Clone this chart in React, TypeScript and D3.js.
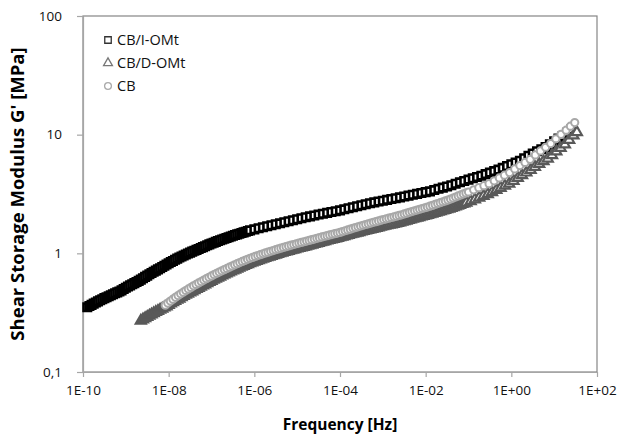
import React, { useEffect, useRef } from 'react';
import * as d3 from 'd3';

// frequencies are stored as log10(Hz), G' in MPa
const iomtLogHz = [
  -9.9, -9.85, -9.8, -9.75, -9.7, -9.65, -9.6, -9.55, -9.5, -9.45,
  -9.4, -9.35, -9.3, -9.25, -9.2, -9.15, -9.1, -9.05, -9.0, -8.95,
  -8.9, -8.85, -8.8, -8.75, -8.7, -8.65, -8.6, -8.55, -8.5, -8.45,
  -8.4, -8.35, -8.3, -8.25, -8.2, -8.15, -8.1, -8.05, -8.0, -7.95,
  -7.9, -7.85, -7.8, -7.75, -7.7, -7.65, -7.6, -7.55, -7.5, -7.45,
  -7.4, -7.35, -7.3, -7.25, -7.2, -7.15, -7.1, -7.05, -7.0, -6.95,
  -6.9, -6.85, -6.8, -6.75, -6.7, -6.65, -6.6, -6.55, -6.5, -6.45,
  -6.4, -6.35, -6.3, -6.25, -6.2, -6.15, -6.1,
  -6.0, -5.9, -5.8, -5.7, -5.6, -5.5, -5.4, -5.3, -5.2, -5.1,
  -5.0, -4.9, -4.8, -4.7, -4.6, -4.5, -4.4, -4.3, -4.2, -4.1,
  -4.0, -3.9, -3.8, -3.7, -3.6, -3.5, -3.4, -3.3, -3.2, -3.1,
  -3.0, -2.9, -2.8, -2.7, -2.6, -2.5, -2.4, -2.3, -2.2, -2.1,
  -2.0, -1.9, -1.8, -1.7, -1.6, -1.5, -1.4, -1.3, -1.2, -1.1,
  -1.0, -0.9, -0.8, -0.7, -0.6, -0.5, -0.4, -0.3, -0.2, -0.1,
  0.0, 0.1, 0.2, 0.3, 0.4, 0.5, 0.6, 0.7, 0.8, 0.9,
  1.0, 1.1, 1.2, 1.3, 1.4
];
const iomtG = [
  0.351, 0.36, 0.368, 0.377, 0.385, 0.394, 0.402, 0.41, 0.419, 0.427,
  0.435, 0.444, 0.452, 0.461, 0.469, 0.477, 0.487, 0.5, 0.513, 0.525,
  0.537, 0.549, 0.561, 0.574, 0.586, 0.6, 0.616, 0.633, 0.649, 0.666,
  0.682, 0.699, 0.715, 0.732, 0.748, 0.767, 0.786, 0.806, 0.825, 0.844,
  0.863, 0.883, 0.902, 0.921, 0.94, 0.958, 0.977, 0.996, 1.014, 1.033,
  1.052, 1.07, 1.089, 1.108, 1.128, 1.148, 1.168, 1.189, 1.209, 1.229,
  1.249, 1.27, 1.29, 1.309, 1.329, 1.348, 1.367, 1.387, 1.406, 1.425,
  1.444, 1.464, 1.483, 1.502, 1.521, 1.541, 1.56,
  1.593, 1.626, 1.659, 1.691, 1.724, 1.757, 1.79, 1.827, 1.864, 1.901,
  1.939, 1.976, 2.013, 2.05, 2.086, 2.121, 2.157, 2.193, 2.229, 2.264,
  2.3, 2.349, 2.397, 2.446, 2.494, 2.543, 2.591, 2.64, 2.686, 2.731,
  2.777, 2.823, 2.869, 2.914, 2.96, 3.013, 3.066, 3.119, 3.171, 3.224,
  3.277, 3.33, 3.413, 3.496, 3.579, 3.662, 3.752, 3.859, 3.966, 4.073,
  4.181, 4.288, 4.395, 4.512, 4.652, 4.792, 4.932, 5.072, 5.248, 5.444,
  5.639, 5.835, 6.03, 6.333, 6.636, 6.939, 7.243, 7.546, 7.849, 8.283,
  8.773, 9.264, 9.755, 10.35, 11.06
];

const domtLogHz = [
  -8.65, -8.6, -8.55, -8.5, -8.45, -8.4, -8.35, -8.3, -8.25, -8.2,
  -8.15, -8.1, -8.05, -8.0, -7.95, -7.9, -7.85, -7.8, -7.75, -7.7,
  -7.65, -7.6, -7.55, -7.5, -7.45, -7.4, -7.35, -7.3, -7.25, -7.2,
  -7.15, -7.1, -7.05, -7.0, -6.95, -6.9, -6.85, -6.8, -6.75, -6.7,
  -6.65, -6.6, -6.55, -6.5, -6.45, -6.4, -6.35, -6.3, -6.25, -6.2,
  -6.15, -6.1, -6.05, -6.0, -5.95, -5.9, -5.85, -5.8, -5.75, -5.7,
  -5.65, -5.6, -5.55, -5.5, -5.45, -5.4, -5.35, -5.3, -5.25, -5.2,
  -5.15, -5.1, -5.05, -5.0, -4.95, -4.9, -4.85, -4.8, -4.75, -4.7,
  -4.65, -4.6, -4.55, -4.5, -4.45, -4.4, -4.35, -4.3, -4.25, -4.2,
  -4.15, -4.1, -4.05, -4.0, -3.95, -3.9, -3.85, -3.8, -3.75, -3.7,
  -3.65, -3.6, -3.55, -3.5, -3.45, -3.4, -3.35, -3.3, -3.25, -3.2,
  -3.15, -3.1, -3.05, -3.0, -2.95, -2.9, -2.85, -2.8, -2.75, -2.7,
  -2.65, -2.6, -2.55, -2.5, -2.45, -2.4, -2.35, -2.3, -2.25, -2.2,
  -2.15, -2.1, -2.05, -2.0, -1.95, -1.9, -1.85, -1.8, -1.75, -1.7,
  -1.65, -1.6, -1.55, -1.5, -1.45, -1.4, -1.35, -1.3, -1.25, -1.2,
  -1.15, -1.1, -1.05,
  -0.95, -0.85, -0.75, -0.65, -0.55, -0.45, -0.35, -0.25, -0.15, -0.05,
  0.05, 0.15, 0.25, 0.35, 0.45, 0.55, 0.65, 0.75, 0.85, 0.95,
  1.05, 1.15, 1.25, 1.35, 1.45, 1.53
];
const domtG = [
  0.27, 0.277, 0.284, 0.291, 0.298, 0.305, 0.312, 0.32, 0.327, 0.334,
  0.341, 0.349, 0.357, 0.367, 0.377, 0.387, 0.396, 0.406, 0.415, 0.426,
  0.436, 0.447, 0.457, 0.468, 0.478, 0.489, 0.5, 0.511, 0.522, 0.535,
  0.547, 0.56, 0.573, 0.586, 0.598, 0.611, 0.623, 0.636, 0.649, 0.662,
  0.675, 0.689, 0.702, 0.716, 0.729, 0.743, 0.756, 0.77, 0.784, 0.798,
  0.811, 0.824, 0.837, 0.85, 0.862, 0.875, 0.887, 0.9, 0.912, 0.925,
  0.937, 0.95, 0.962, 0.975, 0.987, 1.0, 1.012, 1.024, 1.036, 1.048,
  1.06, 1.072, 1.084, 1.096, 1.108, 1.12, 1.132, 1.144, 1.156, 1.169,
  1.182, 1.196, 1.21, 1.224, 1.238, 1.252, 1.266, 1.28, 1.294, 1.308,
  1.322, 1.336, 1.35, 1.365, 1.38, 1.396, 1.412, 1.428, 1.445, 1.461,
  1.477, 1.493, 1.509, 1.525, 1.542, 1.558, 1.574, 1.59, 1.606, 1.622,
  1.639, 1.655, 1.672, 1.688, 1.705, 1.721, 1.738, 1.754, 1.771, 1.787,
  1.804, 1.822, 1.842, 1.864, 1.886, 1.908, 1.931, 1.953, 1.975, 1.997,
  2.019, 2.041, 2.064, 2.086, 2.108, 2.132, 2.158, 2.185, 2.213, 2.24,
  2.268, 2.296, 2.324, 2.351, 2.379, 2.413, 2.45, 2.487, 2.524, 2.561,
  2.599, 2.636, 2.673,
  2.75, 2.849, 2.948, 3.048, 3.147, 3.27, 3.42, 3.56, 3.71, 3.86,
  4.08, 4.32, 4.55, 4.79, 5.04, 5.35, 5.66, 5.97, 6.28, 6.7,
  7.22, 7.74, 8.26, 9.04, 9.83, 10.5
];

const cbLogHz = [
  -8.08, -8.02, -7.96, -7.9, -7.84, -7.78, -7.72, -7.66, -7.6, -7.54,
  -7.48, -7.42, -7.36, -7.3, -7.24, -7.18, -7.12, -7.06, -7.0, -6.94,
  -6.88, -6.82, -6.76, -6.7, -6.64, -6.58, -6.52, -6.46, -6.4, -6.34,
  -6.28, -6.22, -6.16, -6.1, -6.04, -5.98, -5.92, -5.86, -5.8, -5.74,
  -5.68, -5.62, -5.56, -5.5, -5.44, -5.38, -5.32, -5.26, -5.2, -5.14,
  -5.08, -5.02, -4.96, -4.9, -4.84, -4.78, -4.72, -4.66, -4.6, -4.54,
  -4.48, -4.42, -4.36, -4.3, -4.24, -4.18, -4.12, -4.06, -4.0, -3.94,
  -3.88, -3.82, -3.76, -3.7, -3.64, -3.58, -3.52, -3.46, -3.4, -3.34,
  -3.28, -3.22, -3.16, -3.1, -3.04, -2.98, -2.92, -2.86, -2.8, -2.74,
  -2.68, -2.62, -2.56, -2.5, -2.44, -2.38, -2.32, -2.26, -2.2, -2.14,
  -2.08, -2.02, -1.96, -1.9, -1.84, -1.78, -1.72, -1.66, -1.6, -1.54,
  -1.48, -1.42, -1.36, -1.3, -1.24, -1.18, -1.12, -1.06, -1.0,
  -0.88, -0.76, -0.64, -0.52, -0.4, -0.28, -0.16, -0.04, 0.08, 0.2,
  0.32, 0.44, 0.56, 0.68, 0.8, 0.92, 1.04, 1.16, 1.28, 1.38, 1.48
];
const cbG = [
  0.366, 0.381, 0.396, 0.411, 0.426, 0.441, 0.456, 0.471, 0.486, 0.501,
  0.516, 0.532, 0.547, 0.563, 0.578, 0.595, 0.611, 0.628, 0.645, 0.662,
  0.678, 0.695, 0.712, 0.729, 0.746, 0.764, 0.782, 0.8, 0.818, 0.836,
  0.854, 0.872, 0.89, 0.907, 0.924, 0.941, 0.957, 0.974, 0.99, 1.007,
  1.023, 1.04, 1.056, 1.073, 1.089, 1.106, 1.122, 1.138, 1.154, 1.171,
  1.187, 1.204, 1.22, 1.236, 1.252, 1.269, 1.285, 1.303, 1.32, 1.338,
  1.356, 1.374, 1.392, 1.41, 1.428, 1.446, 1.464, 1.482, 1.5, 1.525,
  1.55, 1.575, 1.599, 1.624, 1.649, 1.674, 1.699, 1.724, 1.749, 1.774,
  1.799, 1.825, 1.85, 1.876, 1.902, 1.928, 1.953, 1.979, 2.004, 2.03,
  2.056, 2.085, 2.113, 2.147, 2.181, 2.216, 2.25, 2.285, 2.319, 2.353,
  2.387, 2.422, 2.456, 2.496, 2.536, 2.582, 2.628, 2.674, 2.72, 2.766,
  2.812, 2.867, 2.921, 2.983, 3.044, 3.105, 3.166, 3.228, 3.289,
  3.427, 3.572, 3.717, 3.862, 4.081, 4.318, 4.554, 4.79, 5.14, 5.49,
  5.84, 6.2, 6.75, 7.29, 7.83, 8.42, 9.24, 10.06, 10.92, 11.78, 12.64
];

const seriesNames = ['CB/I-OMt', 'CB/D-OMt', 'CB'];
const xTicks = [1e-10, 1e-8, 1e-6, 1e-4, 1e-2, 1, 1e2];
const xTickLabels = ['1E-10', '1E-08', '1E-06', '1E-04', '1E-02', '1E+00', '1E+02'];
const yTicks = [0.1, 1, 10, 100];
const yTickLabels = ['0,1', '1', '10', '100'];

const FONT = "'Open Sans', sans-serif";

const App = () => {
  const ref = useRef<SVGSVGElement>(null);

  useEffect(() => {
    const svg = d3.select(ref.current);
    svg.selectAll('*').remove();

    const width = 621, height = 438;
    const margin = { top: 16, right: 24, bottom: 66, left: 83 };

    const x = d3.scaleLog().domain([1e-10, 1e2]).range([margin.left, width - margin.right]);
    const y = d3.scaleLog().domain([0.1, 100]).range([height - margin.bottom, margin.top]);

    svg.append('rect').attr('width', width).attr('height', height).attr('fill', '#fff');

    // plot frame
    svg.append('rect')
      .attr('x', margin.left).attr('y', margin.top)
      .attr('width', width - margin.right - margin.left)
      .attr('height', height - margin.bottom - margin.top)
      .attr('fill', 'none').attr('stroke', '#858585').attr('stroke-width', 1.2);

    const xAxis = svg.append('g')
      .attr('transform', `translate(0,${height - margin.bottom})`)
      .call(d3.axisBottom(x).tickValues(xTicks).tickFormat((d, i) => xTickLabels[i]).tickSize(5).tickSizeOuter(0).tickPadding(8));
    const yAxis = svg.append('g')
      .attr('transform', `translate(${margin.left},0)`)
      .call(d3.axisLeft(y).tickValues(yTicks).tickFormat((d, i) => yTickLabels[i]).tickSize(6).tickSizeOuter(0).tickPadding(15));

    [xAxis, yAxis].forEach(a => {
      a.select('.domain').attr('stroke', '#a6a6a6').attr('stroke-width', 1.2);
      a.selectAll('line').attr('stroke', '#a6a6a6').attr('stroke-width', 1.2);
      a.selectAll('text').style('font-family', FONT).style('font-size', '13.5px').attr('fill', '#111');
    });

    const sq = d3.symbol().type(d3.symbolSquare).size(56);
    const tri = d3.symbol().type(d3.symbolTriangle).size(44);
    const legSq = d3.symbol().type(d3.symbolSquare).size(42);
    const legTri = d3.symbol().type(d3.symbolTriangle).size(34);

    const iomt = iomtLogHz.map((f, i) => ({ f: Math.pow(10, f), g: iomtG[i] }));
    const domt = domtLogHz.map((f, i) => ({ f: Math.pow(10, f), g: domtG[i] }));
    const cb = cbLogHz.map((f, i) => ({ f: Math.pow(10, f), g: cbG[i] }));

    svg.append('g').selectAll('path').data(iomt).enter().append('path')
      .attr('d', sq())
      .attr('transform', d => `translate(${x(d.f)},${y(d.g)})`)
      .attr('fill', '#fff').attr('stroke', '#000').attr('stroke-width', 2.6);

    svg.append('g').selectAll('path').data(domt).enter().append('path')
      .attr('d', tri())
      .attr('transform', d => `translate(${x(d.f)},${y(d.g)})`)
      .attr('fill', '#fff').attr('stroke', '#595959').attr('stroke-width', 2.2);

    svg.append('g').selectAll('circle').data(cb).enter().append('circle')
      .attr('cx', d => x(d.f)).attr('cy', d => y(d.g)).attr('r', 3.6)
      .attr('fill', '#fff').attr('stroke', '#a8a8a8').attr('stroke-width', 2);

    // legend
    const legend = svg.append('g').attr('transform', 'translate(108,40)');
    seriesNames.forEach((name, i) => {
      const row = legend.append('g').attr('transform', `translate(0,${i * 23})`);
      if (i === 0) row.append('path').attr('d', legSq()).attr('fill', '#fff').attr('stroke', '#333').attr('stroke-width', 1.3);
      if (i === 1) row.append('path').attr('d', legTri()).attr('fill', '#fff').attr('stroke', '#777').attr('stroke-width', 1.3);
      if (i === 2) row.append('circle').attr('r', 3.4).attr('fill', '#fff').attr('stroke', '#aaa').attr('stroke-width', 1.3);
      row.append('text').attr('x', 9).attr('dy', '0.35em').text(name)
        .style('font-family', FONT).style('font-size', '14.5px').attr('fill', '#111');
    });

    svg.append('text')
      .attr('x', (margin.left + width - margin.right) / 2).attr('y', 430)
      .attr('text-anchor', 'middle')
      .style('font-family', FONT).style('font-size', '15.5px').style('font-weight', '700')
      .text('Frequency [Hz]');

    svg.append('text')
      .attr('transform', `translate(24,${(margin.top + height - margin.bottom) / 2}) rotate(-90)`)
      .attr('text-anchor', 'middle')
      .style('font-family', FONT).style('font-size', '18.5px').style('font-weight', '700')
      .text("Shear Storage Modulus G' [MPa]");
  });

  return (
    <svg ref={ref} width={621} height={438} style={{ position: 'absolute', left: 0, top: 0 }} />
  );
};

export default App;
